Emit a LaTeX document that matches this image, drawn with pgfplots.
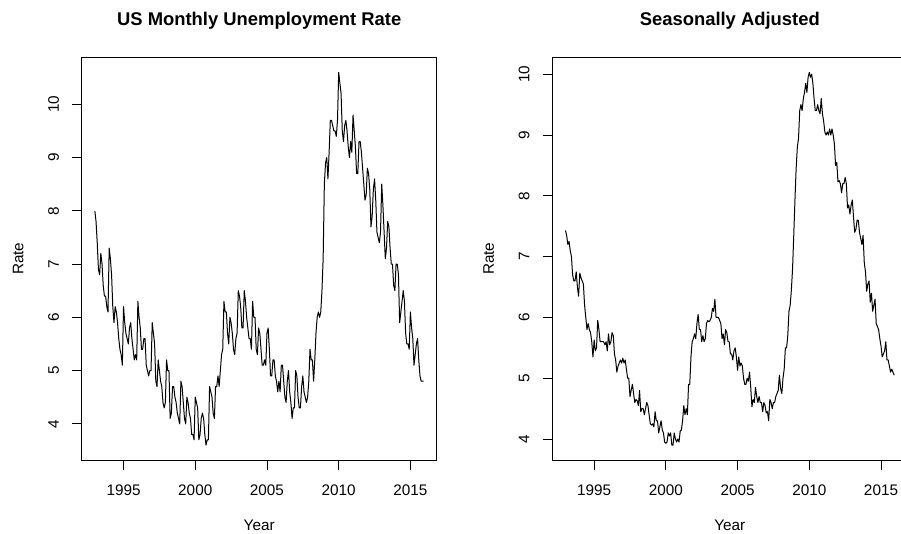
\documentclass[border=0pt]{standalone}
\usepackage{pgfplots}
\usepackage{pgfplotstable}
\pgfplotsset{compat=1.18}
\usepackage{fontspec}
\setmainfont{Liberation Sans}
\newcommand\fs{\fontsize{15.3pt}{18pt}\selectfont}
\newcommand\ft{\bfseries\fontsize{18.4pt}{22pt}\selectfont}

% monthly values, Jan 1993 .. Dec 2015: nsa = not seasonally adjusted, sa = seasonally adjusted
\pgfplotstableread[row sep=\\]{
nsa sa\\
8.0 7.43\\ 7.8 7.35\\ 7.4 7.2\\ 6.9 7.25\\ 6.8 7.1\\ 7.2 7.0\\ 7.0 6.7\\ 6.6 6.6\\ 6.4 6.6\\ 6.4 6.75\\ 6.2 6.5\\ 6.1 6.35\\
7.3 6.73\\ 7.1 6.65\\ 6.8 6.6\\ 6.2 6.55\\ 5.9 6.2\\ 6.2 6.0\\ 6.1 5.8\\ 5.9 5.9\\ 5.6 5.8\\ 5.4 5.75\\ 5.3 5.6\\ 5.1 5.35\\
6.2 5.63\\ 5.9 5.45\\ 5.7 5.5\\ 5.6 5.95\\ 5.5 5.8\\ 5.8 5.6\\ 5.9 5.6\\ 5.6 5.6\\ 5.4 5.6\\ 5.2 5.55\\ 5.3 5.6\\ 5.2 5.45\\
6.3 5.73\\ 6.0 5.55\\ 5.8 5.6\\ 5.4 5.75\\ 5.4 5.7\\ 5.6 5.4\\ 5.6 5.3\\ 5.1 5.1\\ 5.0 5.2\\ 4.9 5.25\\ 5.0 5.3\\ 5.0 5.25\\
5.9 5.33\\ 5.7 5.25\\ 5.5 5.3\\ 4.8 5.15\\ 4.7 5.0\\ 5.2 5.0\\ 5.0 4.7\\ 4.8 4.8\\ 4.7 4.9\\ 4.4 4.75\\ 4.3 4.6\\ 4.4 4.65\\
5.2 4.63\\ 5.0 4.55\\ 5.0 4.8\\ 4.1 4.45\\ 4.2 4.5\\ 4.7 4.5\\ 4.7 4.4\\ 4.5 4.5\\ 4.4 4.6\\ 4.2 4.55\\ 4.1 4.4\\ 4.0 4.25\\
4.8 4.23\\ 4.7 4.25\\ 4.4 4.2\\ 4.1 4.45\\ 4.0 4.3\\ 4.5 4.3\\ 4.4 4.1\\ 4.2 4.2\\ 4.1 4.3\\ 3.8 4.15\\ 3.8 4.1\\ 3.7 3.95\\
4.5 3.93\\ 4.4 3.95\\ 4.3 4.1\\ 3.7 4.05\\ 3.8 4.1\\ 4.1 3.9\\ 4.2 3.9\\ 4.1 4.1\\ 3.8 4.0\\ 3.6 3.95\\ 3.7 4.0\\ 3.7 3.95\\
4.7 4.13\\ 4.6 4.15\\ 4.5 4.3\\ 4.2 4.55\\ 4.1 4.4\\ 4.7 4.5\\ 4.7 4.4\\ 4.9 4.9\\ 4.7 4.9\\ 5.0 5.35\\ 5.3 5.6\\ 5.4 5.65\\
6.3 5.73\\ 6.1 5.65\\ 6.1 5.9\\ 5.7 6.05\\ 5.5 5.8\\ 6.0 5.8\\ 5.9 5.6\\ 5.7 5.7\\ 5.4 5.6\\ 5.3 5.65\\ 5.6 5.9\\ 5.7 5.95\\
6.5 5.93\\ 6.4 5.95\\ 6.2 6.0\\ 5.8 6.15\\ 5.8 6.1\\ 6.5 6.3\\ 6.3 6.0\\ 6.0 6.0\\ 5.8 6.0\\ 5.6 5.95\\ 5.6 5.9\\ 5.4 5.65\\
6.3 5.73\\ 6.0 5.55\\ 6.0 5.8\\ 5.4 5.75\\ 5.3 5.6\\ 5.8 5.6\\ 5.7 5.4\\ 5.4 5.4\\ 5.1 5.3\\ 5.1 5.45\\ 5.2 5.5\\ 5.1 5.35\\
5.7 5.13\\ 5.8 5.35\\ 5.4 5.2\\ 4.9 5.25\\ 4.9 5.2\\ 5.2 5.0\\ 5.2 4.9\\ 4.9 4.9\\ 4.8 5.0\\ 4.6 4.95\\ 4.8 5.1\\ 4.6 4.85\\
5.1 4.53\\ 5.1 4.65\\ 4.8 4.6\\ 4.5 4.85\\ 4.4 4.7\\ 4.8 4.6\\ 5.0 4.7\\ 4.6 4.6\\ 4.4 4.6\\ 4.1 4.45\\ 4.3 4.6\\ 4.3 4.55\\
5.0 4.43\\ 4.9 4.45\\ 4.5 4.3\\ 4.3 4.65\\ 4.3 4.6\\ 4.7 4.5\\ 4.9 4.6\\ 4.6 4.6\\ 4.5 4.7\\ 4.4 4.75\\ 4.5 4.8\\ 4.8 5.05\\
5.4 4.83\\ 5.2 4.75\\ 5.2 5.0\\ 4.8 5.15\\ 5.2 5.5\\ 5.7 5.5\\ 6.0 5.7\\ 6.1 6.1\\ 6.0 6.2\\ 6.1 6.45\\ 6.5 6.8\\ 7.1 7.35\\
8.5 7.93\\ 8.9 8.45\\ 9.0 8.8\\ 8.6 8.95\\ 9.1 9.4\\ 9.7 9.5\\ 9.7 9.4\\ 9.6 9.6\\ 9.5 9.7\\ 9.5 9.85\\ 9.4 9.7\\ 9.7 9.95\\
10.6 10.03\\ 10.4 9.95\\ 10.2 10.0\\ 9.5 9.85\\ 9.3 9.6\\ 9.6 9.4\\ 9.7 9.4\\ 9.5 9.5\\ 9.2 9.4\\ 9.0 9.35\\ 9.3 9.6\\ 9.1 9.35\\
9.8 9.23\\ 9.5 9.05\\ 9.2 9.0\\ 8.7 9.05\\ 8.7 9.0\\ 9.3 9.1\\ 9.3 9.0\\ 9.1 9.1\\ 8.8 9.0\\ 8.5 8.85\\ 8.2 8.5\\ 8.3 8.55\\
8.8 8.23\\ 8.7 8.25\\ 8.4 8.2\\ 7.7 8.05\\ 7.9 8.2\\ 8.4 8.2\\ 8.6 8.3\\ 8.2 8.2\\ 7.6 7.8\\ 7.5 7.85\\ 7.4 7.7\\ 7.6 7.85\\
8.5 7.93\\ 8.1 7.65\\ 7.6 7.4\\ 7.1 7.45\\ 7.3 7.6\\ 7.8 7.6\\ 7.7 7.4\\ 7.3 7.3\\ 7.0 7.2\\ 7.0 7.35\\ 6.6 6.9\\ 6.5 6.75\\
7.0 6.43\\ 7.0 6.55\\ 6.8 6.6\\ 5.9 6.25\\ 6.1 6.4\\ 6.3 6.1\\ 6.5 6.2\\ 6.3 6.3\\ 5.7 5.9\\ 5.5 5.85\\ 5.5 5.8\\ 5.4 5.65\\
6.1 5.53\\ 5.8 5.35\\ 5.6 5.4\\ 5.1 5.45\\ 5.3 5.6\\ 5.5 5.3\\ 5.6 5.3\\ 5.2 5.2\\ 4.9 5.1\\ 4.8 5.15\\ 4.8 5.1\\ 4.8 5.05\\
}\data

\pgfplotsset{rstyle/.style={
  scale only axis, width=355pt, height=402.5pt,
  xmin=1992.0833, xmax=2016.8333,
  xtick={1995,2000,2005,2010,2015}, ytick={4,5,6,7,8,9,10},
  xtick pos=bottom, ytick pos=left,
  tick align=outside, major tick length=9.7pt,
  every tick/.style={black, line width=0.8pt},
  axis line style={black, line width=0.8pt},
  /pgf/number format/assume math mode=true,
  /pgf/number format/1000 sep={},
  tick label style={font=\fs, inner sep=0pt},
  xticklabel style={anchor=base},
  yticklabel style={rotate=90, anchor=base},
  xticklabel shift=25.8pt, yticklabel shift=13.2pt,
  every axis x label/.style={at={(axis description cs:0.5,0)}, yshift=-70pt, anchor=base, inner sep=0pt, font=\fs},
  every axis y label/.style={at={(axis description cs:0,0.5)}, xshift=-58.4pt, rotate=90, anchor=base, inner sep=0pt, font=\fs},
  every axis title/.style={at={(axis description cs:0.5,1)}, yshift=32pt, anchor=base, inner sep=0pt, font=\ft},
  xlabel={Year}, ylabel={Rate},
}}

\begin{document}
\begin{tikzpicture}
\path[use as bounding box] (0pt,0pt) rectangle (901pt,533pt);
\begin{axis}[rstyle, at={(81.7pt,73pt)}, anchor=south west,
  ymin=3.32, ymax=10.88, title={US Monthly Unemployment Rate}]
\addplot[black, line width=1pt, line join=round] table[x expr=1993+\coordindex/12, y=nsa]{\data};
\end{axis}
\begin{axis}[rstyle, at={(552.3pt,73pt)}, anchor=south west,
  ymin=3.655, ymax=10.275, title={Seasonally Adjusted}]
\addplot[black, line width=1pt, line join=round] table[x expr=1993+\coordindex/12, y=sa]{\data};
\end{axis}
\end{tikzpicture}
\end{document}
